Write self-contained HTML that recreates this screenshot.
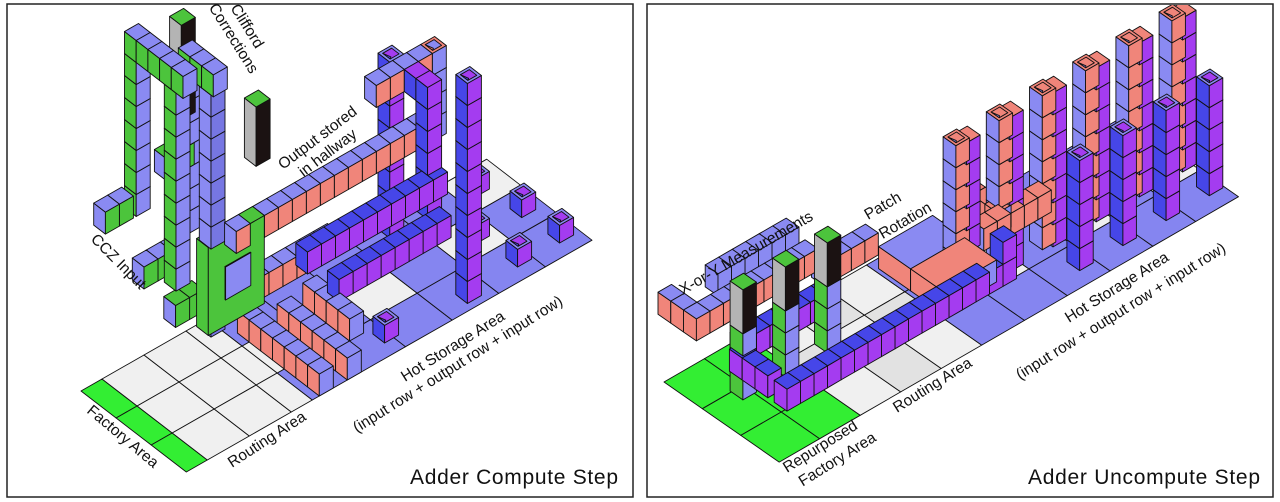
<!DOCTYPE html>
<html><head><meta charset="utf-8"><style>
html,body{margin:0;padding:0;background:#fff;}
svg{display:block;}
text{font-family:"Liberation Sans",Arial,sans-serif;fill:#111;}
</style></head><body>
<svg id="s" xmlns="http://www.w3.org/2000/svg" width="1280" height="502" viewBox="0 0 1280 502">
<defs>
<clipPath id="cl"><rect x="8" y="5" width="624" height="491"/></clipPath>
<clipPath id="cr"><rect x="648" y="5" width="624" height="491"/></clipPath>
</defs>
<rect x="0" y="0" width="1280" height="502" fill="#fff"/>
<g id="gl" clip-path="url(#cl)"></g>
<g id="gr" clip-path="url(#cr)"></g>
<rect x="7" y="4" width="626" height="493" fill="none" stroke="#222" stroke-width="1.5"/>
<rect x="647" y="4" width="626" height="493" fill="none" stroke="#222" stroke-width="1.5"/>
<g id="txt" font-size="15.5">
<text transform="translate(230,8) rotate(58)">Clifford<tspan x="-12" dy="18">Corrections</tspan></text>
<text transform="translate(283,170) rotate(-37)">Output stored<tspan x="12" dy="18">in hallway</tspan></text>
<text transform="translate(90,240) rotate(45)">CCZ Input</text>
<text transform="translate(86,412) rotate(40)">Factory Area</text>
<text transform="translate(232,468) rotate(-33)">Routing Area</text>
<text transform="translate(405,382) rotate(-32)">Hot Storage Area</text>
<text transform="translate(357,433) rotate(-32)">(input row + output row + input row)</text>
<text x="410" y="484" font-size="21" textLength="208">Adder Compute Step</text>
<text transform="translate(683,295) rotate(-30)">X-or-Y Measurements</text>
<text transform="translate(868,220) rotate(-30)">Patch<tspan x="3" dy="24">Rotation</tspan></text>
<text transform="translate(897,413) rotate(-32)">Routing Area</text>
<text transform="translate(1069,323) rotate(-32)">Hot Storage Area</text>
<text transform="translate(1020,380) rotate(-32)">(input row + output row + input row)</text>
<text transform="translate(787,473) rotate(-32)">Repurposed<tspan x="6" dy="20">Factory Area</tspan></text>
<text x="1028" y="484" font-size="21" textLength="232">Adder Uncompute Step</text>
</g>
</svg>
<script>
const NS='http://www.w3.org/2000/svg';
const C={P:'#8a8af2',Q:'#7676e2',G:'#4cc43c',S:'#f0857a',V:'#a43cf0',U:'#4646e8',K:'#1b1212',Y:'#b4b4b4',F:'#8585f0',W:'#f0f0f0',W2:'#e2e2e2',GF:'#33ee33'};
function poly(g,pts,fill){const p=document.createElementNS(NS,'polygon');p.setAttribute('points',pts.map(q=>q[0].toFixed(1)+','+q[1].toFixed(1)).join(' '));p.setAttribute('fill',fill);p.setAttribute('stroke','#111');p.setAttribute('stroke-width','0.9');p.setAttribute('stroke-linejoin','round');g.appendChild(p);}
function box(arr,x,y,z,dx,dy,dz,t,l,r,cap){arr.push({x,y,z,dx,dy,dz,t:C[t]||t,l:C[l]||l,r:C[r]||r,cap});}
function seg(arr,x,y,z,ax,n,cols,cap){for(let i=0;i<n;i++){let xx=x,yy=y,zz=z;if(ax=='x')xx+=i;else if(ax=='y')yy+=i;else zz+=i;box(arr,xx,yy,zz,1,1,1,cols[0],cols[1],cols[2],cap&&i==n-1);}}
function scene(g,pr,floor,cubes){
 const P=(x,y,z)=>[pr[0]+pr[2]*x+pr[4]*y, pr[1]+pr[3]*x+pr[5]*y-22*z];
 floor.forEach(([x,y,w,h,c])=>poly(g,[P(x,y,0),P(x+w,y,0),P(x+w,y+h,0),P(x,y+h,0)],C[c]||c));
 const k=a=>(a.x+a.dx/2)-(a.y+a.dy/2)+(a.z+a.dz/2);
 cubes.sort((a,b)=>k(a)-k(b));
 cubes.forEach(c=>{const {x,y,z,dx,dy,dz}=c;
  poly(g,[P(x,y,z),P(x+dx,y,z),P(x+dx,y,z+dz),P(x,y,z+dz)],c.l);
  poly(g,[P(x+dx,y,z),P(x+dx,y+dy,z),P(x+dx,y+dy,z+dz),P(x+dx,y,z+dz)],c.r);
  poly(g,[P(x,y,z+dz),P(x+dx,y,z+dz),P(x+dx,y+dy,z+dz),P(x,y+dy,z+dz)],c.t);
  if(c.cap){const e=0.18,h=z+dz;poly(g,[P(x+e,y+e,h),P(x+dx-e,y+e,h),P(x+dx-e,y+dy-e,h),P(x+e,y+dy-e,h)],c.r);
   poly(g,[P(x+e,y+e,h),P(x+dx-e,y+e,h),P(x+dx/2,y+dy/2,h-0.15)],c.l);}
 });
}
// ---------- LEFT ----------
const FL=[];
[0,3,6].forEach(x=>FL.push([x,0,3,1.5,'GF']));
[0,3,6].forEach(x=>{FL.push([x,1.5,3,3,'W']);FL.push([x,4.5,3,3,'W']);FL.push([x,7.5,3,1.5,'W']);});
for(let i=0;i<6;i++){const y=9+i*3.33;
 FL.push([6,y,3,3.33,'F']);
 FL.push([3,y,3,3.33,(i%2==0)?'W':'F']);
 FL.push([0,y,3,3.33,(i==5)?'W':'F']);}
const L=[];
[[7,11.5],[7,15],[7,24.5],[7,27.5],[4,24],[4,27.3],[1,26.5]].forEach(([x,y])=>box(L,x,y,0,1,1,0.8,'P','U','V',true));
seg(L,7.5,20.5,0,'z',10,['P','U','V'],true);
seg(L,0.5,20.8,0,'z',8,['P','U','V'],true);
seg(L,1.5,23,4,'z',4,['S','S','P'],true);
seg(L,1.5,9,4,'y',14,['P','P','S']);
seg(L,1.5,19,7,'y',4,['P','P','S']);
seg(L,4,12,3,'y',10,['U','U','V']);
seg(L,5.5,13,2,'y',8,['U','U','V']);
seg(L,3.5,21,2,'z',6,['V','U','V']);
seg(L,2.5,21,7,'x',1,['V','U','V']);
seg(L,2,9.5,0,'x',7,['P','S','P']);
seg(L,3,11.5,0,'x',6,['P','S','P']);
seg(L,4,12.5,1,'x',4,['P','S','P']);
seg(L,2.5,9.5,2,'y',6,['P','P','S']);
// green cluster
seg(L,-3.1,5.7,5,'z',7,['P','G','P']);
seg(L,-3.1,5.7,12,'x',5,['P','G','P']);
seg(L,0.3,5.7,3,'z',9,['P','G','P']);
seg(L,-1.5,8.2,4,'z',7,['P','G','P']);
seg(L,-1.5,8.2,11,'x',3,['P','G','P']);
seg(L,0.3,8.2,0,'z',11,['P','P','Q']);
seg(L,-3.1,3.5,5,'y',2,['P','P','G']);
seg(L,-1,4.5,3,'y',3,['P','P','G']);
seg(L,0.5,5.5,1.5,'y',2,['G','P','G']);
seg(L,-1.5,6.5,7,'y',2,['G','P','G']);
box(L,1.5,7,1,1,4,4,'G','G','G');
box(L,2.5,8.2,2.2,0.05,1.8,1.5,'P','P','P');
box(L,-2,8,9,1,1,4.3,'G','Y','K');
box(L,2,10,7.8,1,1,2.7,'G','Y','K');
scene(document.getElementById('gl'),[81,391,11.7,9,14,-8],FL,L);
// ---------- RIGHT ----------
const FR=[];
[0,3,6].forEach(x=>{FR.push([x,0,3,3,'GF']);FR.push([x,3,3,3,'GF']);});
[0,3,6].forEach((x,i)=>{[6,9,12].forEach((y,j)=>FR.push([x,y,3,3,((i+j)%2)?'W2':'W']));});
for(let i=0;i<6;i++){const y=15+i*3.17;
 FR.push([6,y,3,3.17,'F']);
 FR.push([3,y,3,3.17,(i%2==1)?'W':'F']);
 FR.push([0,y,3,3.17,'F']);}
const R=[];
for(let k=0;k<6;k++){seg(R,4.5,17.2+3.2*k,0,'z',7,['S','P','V']);seg(R,4.3,16.6+3.2*k,0,'z',7,['S','P','S'],true);}
for(let k=0;k<4;k++)seg(R,6.9,23.3+3.2*k,0,'z',5,['P','U','V'],true);
box(R,2,14,1,2.5,4,1,'P','S','P');
box(R,4.5,14,1,2.5,4,1,'S','S','P');
seg(R,5,18,2,'y',5,['S','P','S']);
seg(R,1.5,19.5,2,'x',4,['S','S','P']);
seg(R,1,0.5,2.5,'y',9,['P','S','S']);
seg(R,1.5,9.5,2,'y',4,['P','P','S']);
seg(R,-1,4,2.5,'y',6,['P','P','P']);
seg(R,-1,0.5,2.5,'x',2,['P','S','P']);
seg(R,6.5,2,1,'y',16,['U','V','V']);
seg(R,3,2,1,'x',3,['U','V','V']);
seg(R,6.5,18,1,'z',2,['U','U','V']);
seg(R,2,3,1,'y',7,['U','V','V']);
[[2.9,2.15],[3,5.2],[3,8.3]].forEach(([x,y])=>{seg(R,x,y,0,'z',3,['P','G','P']);box(R,x,y,3,1,1,2,'G','Y','K');});
scene(document.getElementById('gr'),[664,382,12.8,8.9,13.5,-7.8],FR,R);
</script>
</body></html>
